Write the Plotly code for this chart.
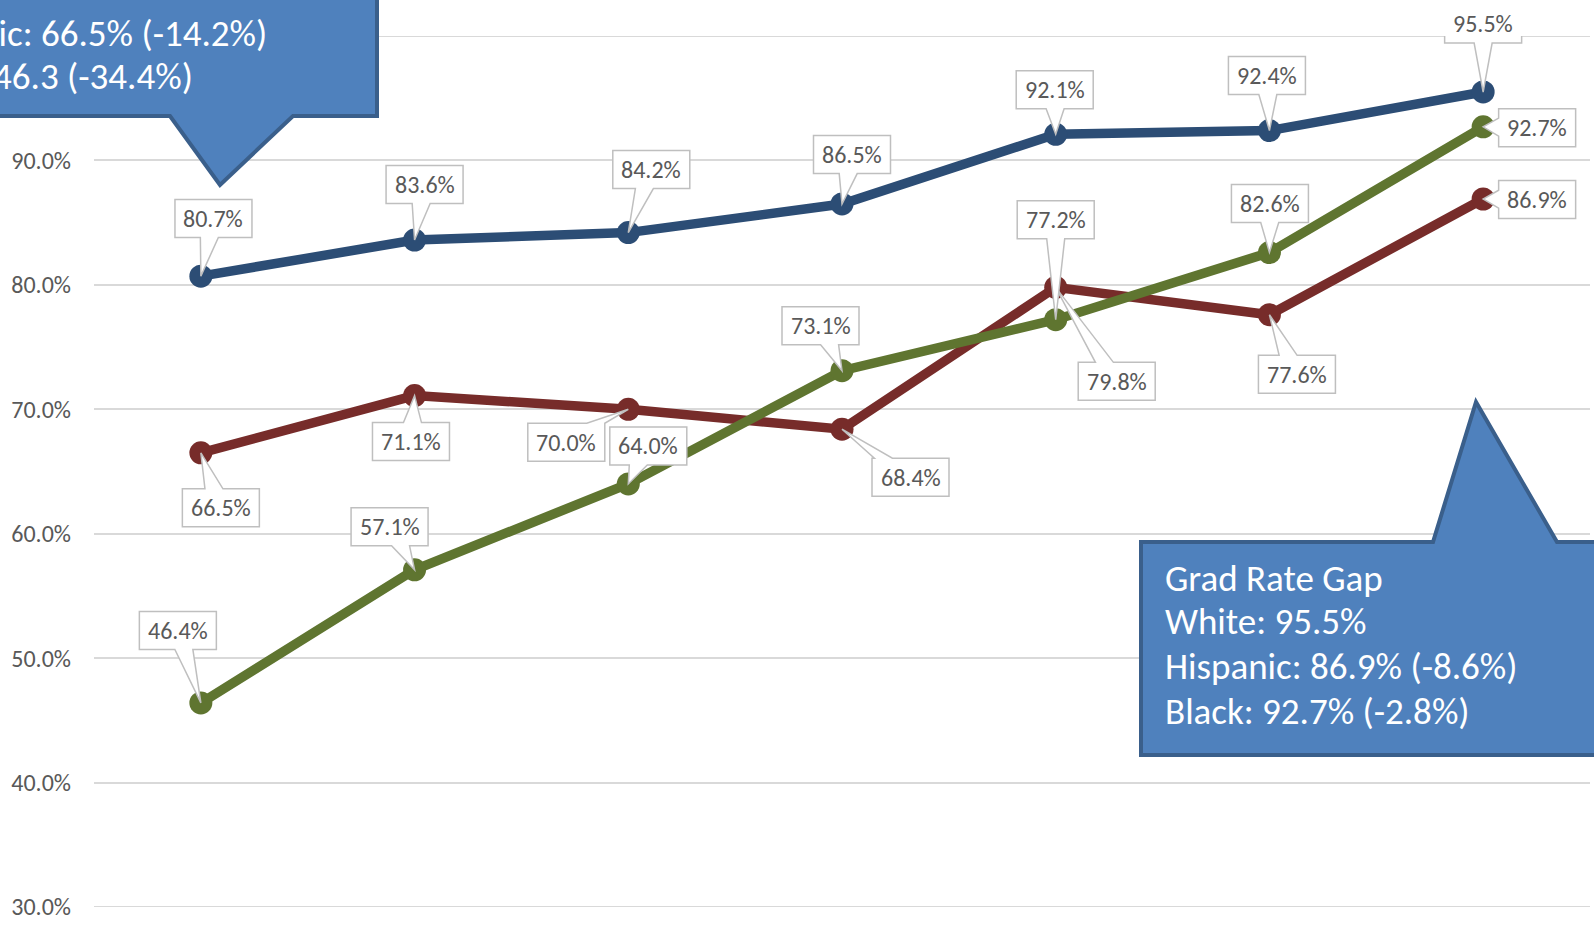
import plotly.graph_objects as go

# ---------------- data ----------------
years = ["2010", "2011", "2012", "2013", "2014", "2015", "2016"]
white = [80.7, 83.6, 84.2, 86.5, 92.1, 92.4, 95.5]
hispanic = [66.5, 71.1, 70.0, 68.4, 79.8, 77.6, 86.9]
black = [46.4, 57.1, 64.0, 73.1, 77.2, 82.6, 92.7]
y_ticks = [30, 40, 50, 60, 70, 80, 90, 100]
y_tick_text = ["30.0%", "40.0%", "50.0%", "60.0%", "70.0%", "80.0%", "90.0%", ""]

# top-left callout (only these lines are visible, the rest is cropped away)
left_callout_lines = ["Hispanic: 66.5% (-14.2%)", "Black: 46.3 (-34.4%)"]
right_callout_lines = ["Grad Rate Gap", "White: 95.5%", "Hispanic: 86.9% (-8.6%)", "Black: 92.7% (-2.8%)"]

# label box centre offsets from its point (pixels, screen y downwards)
white_off = [(12.6, -57.7), (10, -55.6), (23, -63), (10, -49.4), (-1, -44.6), (-2.5, -55), (0, -68)]
hisp_off = [(20, 55), (-3.6, 46), (-62, 33), (68.5, 48), (61, 94), (27.5, 59.6), (54, 0.6)]
black_off = [(-23, -72.5), (-25, -43), (20, -38), (-21.5, -45), (0, -100), (0.5, -49), (54, 1)]

# ---------------- style ----------------
W, H = 1594, 925
ML, MR, MT, MB = 94, 4, 36, 16
FONT = "Carlito, Calibri, Lato, sans-serif"
C_WHITE = "#2C4D75"
C_HISP = "#772C2A"
C_BLACK = "#5F7530"
GRID = "#D9D9D9"
LBL_W, LBL_H, WEDGE = 77, 38, 18

x = list(range(len(years)))

fig = go.Figure()
for name, vals, col in [("White", white, C_WHITE), ("Hispanic", hispanic, C_HISP), ("Black", black, C_BLACK)]:
    fig.add_trace(go.Scatter(
        x=x, y=vals, name=name, mode="lines+markers",
        line=dict(color=col, width=9.5),
        marker=dict(color=col, size=23),
        hoverinfo="skip", showlegend=False,
    ))


def callout_path(cx, cy, w=LBL_W, h=LBL_H, b=WEDGE):
    """Box centred at (cx, cy) relative to point (0,0), screen coords (y down)."""
    L, R, T, B = cx - w / 2, cx + w / 2, cy - h / 2, cy + h / 2
    dx, dy = -cx, -cy
    if abs(dx) * h >= abs(dy) * w:
        edge = "R" if dx > 0 else "L"
        t = cy + dy * (w / 2) / abs(dx)
        t = min(max(t, T + b / 2), B - b / 2)
    else:
        edge = "B" if dy > 0 else "T"
        t = cx + dx * (h / 2) / abs(dy)
        t = min(max(t, L + b / 2), R - b / 2)
    pts = [(L, T)]
    if edge == "T":
        pts += [(t - b / 2, T), (0, 0), (t + b / 2, T)]
    pts.append((R, T))
    if edge == "R":
        pts += [(R, t - b / 2), (0, 0), (R, t + b / 2)]
    pts.append((R, B))
    if edge == "B":
        pts += [(t + b / 2, B), (0, 0), (t - b / 2, B)]
    pts.append((L, B))
    if edge == "L":
        pts += [(L, t + b / 2), (0, 0), (L, t - b / 2)]
    return "M " + " L ".join(f"{px:.1f},{-py:.1f}" for px, py in pts) + " Z"


shapes = []
annotations = []

# gridlines at the ends of the value range
for yv in (y_ticks[0], y_ticks[-1]):
    shapes.append(dict(type="line", xref="paper", yref="y", x0=0, x1=1, y0=yv, y1=yv,
                       line=dict(color=GRID, width=2), layer="below"))

for vals, offs in [(white, white_off), (hispanic, hisp_off), (black, black_off)]:
    for xi, v, (ox, oy) in zip(x, vals, offs):
        shapes.append(dict(
            type="path", xref="x", yref="y", xsizemode="pixel", ysizemode="pixel",
            xanchor=xi, yanchor=v, path=callout_path(ox, oy),
            fillcolor="white", line=dict(color="#BFBFBF", width=1.5), layer="above",
        ))
        annotations.append(dict(
            x=xi, y=v, xref="x", yref="y", text=f"{v:.1f}%", showarrow=False,
            xshift=ox, yshift=-oy, xanchor="center", yanchor="middle",
            font=dict(family=FONT, size=24, color="#595959"),
        ))

# big callouts (screen pixel coords of the whole page)
PW = W - ML - MR
PH = H - MT - MB


def page_path(pts):
    return "M " + " L ".join(f"{px - ML:.1f},{(H - MB) - py:.1f}" for px, py in pts) + " Z"


left_poly = [(-124, -40), (377, -40), (377, 118), (293, 118), (220, 187), (170, 118), (-124, 118)]
right_poly = [(1141, 544), (1433, 544), (1476, 404), (1557, 544), (1640, 544), (1640, 757), (1141, 757)]
for poly in (left_poly, right_poly):
    shapes.append(dict(
        type="path", xref="paper", yref="paper", xsizemode="pixel", ysizemode="pixel",
        xanchor=0, yanchor=0, path=page_path(poly),
        fillcolor="#4F81BD", line=dict(color="#3A5F8B", width=4), layer="above",
    ))


def page_text(lines, left, centers):
    for txt, cyy in zip(lines, centers):
        annotations.append(dict(
            xref="paper", yref="paper",
            x=(left - ML) / PW, y=((H - MB) - cyy) / PH,
            text=txt, showarrow=False, xanchor="left", yanchor="middle",
            font=dict(family=FONT, size=37, color="white"),
        ))


page_text(left_callout_lines, -106, [33, 77])
page_text(right_callout_lines, 1163, [580, 623, 668, 713])

fig.update_layout(
    width=W, height=H,
    margin=dict(l=ML, r=MR, t=MT, b=MB),
    plot_bgcolor="white", paper_bgcolor="white",
    shapes=shapes, annotations=annotations,
    xaxis=dict(range=[-0.5, len(years) - 0.5], tickvals=x, ticktext=years,
               showticklabels=False, showgrid=False, zeroline=False, showline=False, ticks=""),
    yaxis=dict(range=[30, 100], tickvals=y_ticks, ticktext=y_tick_text,
               showgrid=True, gridcolor=GRID, gridwidth=2, zeroline=False, showline=False,
               ticklabelstandoff=22,
               tickfont=dict(family=FONT, size=24, color="#595959")),
    font=dict(family=FONT),
)

fig.write_html("out.html", config={"displayModeBar": False},
               post_script="document.body.style.margin='0';document.body.style.overflow='hidden';")
